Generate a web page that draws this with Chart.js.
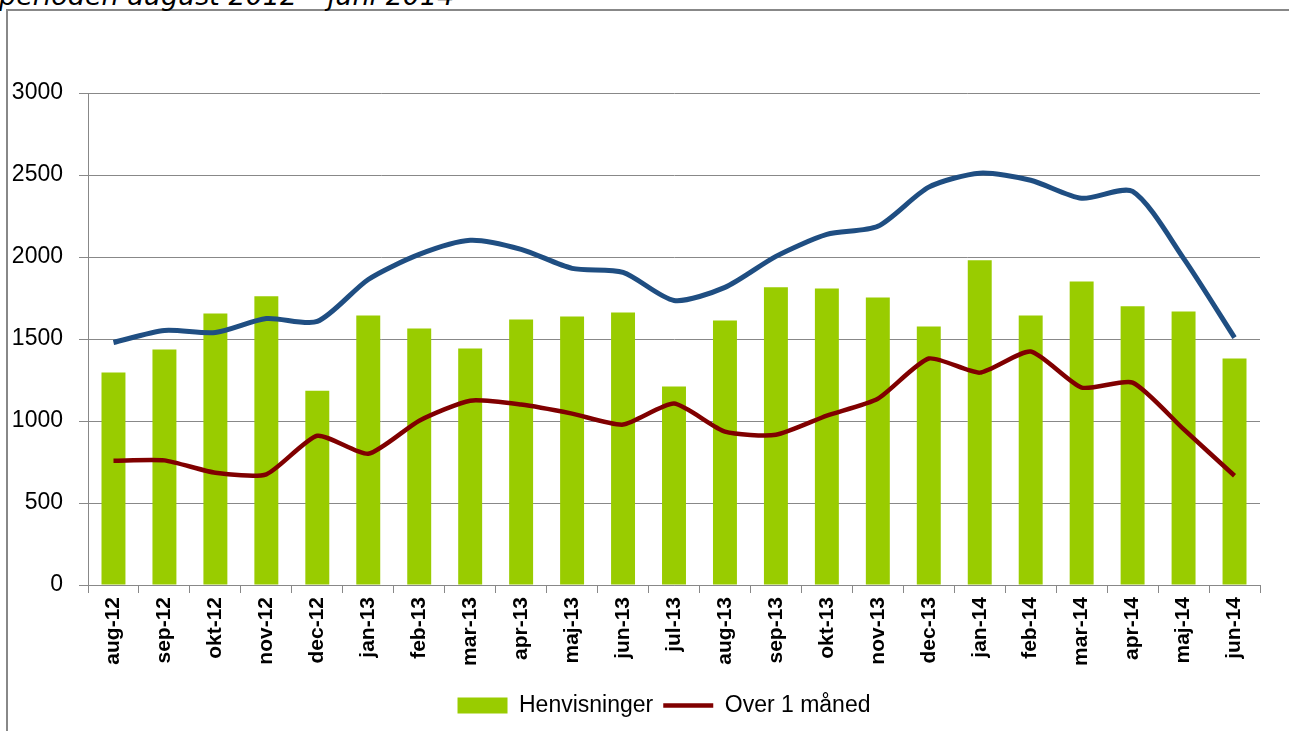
<!DOCTYPE html>
<html><head><meta charset="utf-8">
<script src="https://cdn.jsdelivr.net/npm/chart.js@4.4.0/dist/chart.umd.min.js"></script>
<style>
html,body{margin:0;padding:0;background:#fff;overflow:hidden;width:1289px;height:731px;}
#frame{position:absolute;left:6px;top:9px;width:1400px;height:800px;border-left:2px solid #888;border-top:2px solid #888;}
#title{position:absolute;left:-1px;top:-18px;font-family:"DejaVu Sans";font-style:italic;font-size:27px;line-height:27px;white-space:nowrap;color:#000;}
#wrap{position:absolute;left:0;top:0;width:1289px;height:731px;}
</style></head><body>
<div id="frame"></div>
<div id="title">perioden august 2012 – juni 2014</div>
<div id="wrap"><canvas id="c"></canvas></div>
<script>
const categories = ['aug-12','sep-12','okt-12','nov-12','dec-12','jan-13','feb-13','mar-13','apr-13','maj-13','jun-13','jul-13','aug-13','sep-13','okt-13','nov-13','dec-13','jan-14','feb-14','mar-14','apr-14','maj-14','jun-14'];
const henvisninger = [1295,1436,1656,1760,1185,1643,1564,1442,1619,1637,1662,1210,1613,1815,1808,1753,1576,1980,1643,1851,1699,1668,1381];
const over1Maaned = [758,760,684,675,910,800,1002,1124,1100,1045,978,1106,935,916,1033,1136,1381,1295,1424,1204,1234,950,666];
const blaaSerie = [1479,1552,1540,1625,1607,1863,2016,2102,2047,1931,1906,1735,1815,2004,2138,2187,2426,2511,2468,2358,2400,1992,1509];
const yMin = 0, yMax = 3000, yStep = 500;

const GRID = '#888888';
const legendShift = {
  id:'legendShift',
  afterLayout(chart){ if (chart.legend){ chart.legend.left += 31; chart.legend.right += 31; } }
};
new Chart(document.getElementById('c'), {
  data: {
    labels: categories,
    datasets: [
      {type:'bar', label:'Henvisninger', data:henvisninger, backgroundColor:'#99CC00', borderWidth:0, barPercentage:0.47, categoryPercentage:1, order:3},
      {type:'line', label:'Over 1 måned', data:over1Maaned, borderColor:'#800000', backgroundColor:'#800000', borderWidth:4.5, pointRadius:0, tension:0.2, order:1},
      {type:'line', label:'', data:blaaSerie, borderColor:'#1F4E82', backgroundColor:'#1F4E82', borderWidth:5, pointRadius:0, tension:0.25, order:2}
    ]
  },
  plugins:[legendShift],
  options: {
    responsive:true, maintainAspectRatio:false, animation:false, devicePixelRatio:1,
    layout:{padding:{left:6, right:29, top:93, bottom:4}},
    plugins:{
      tooltip:{enabled:false},
      legend:{
        position:'bottom',
        labels:{
          usePointStyle:true, pointStyleWidth:50, boxHeight:16, padding:10, color:'#000',
          font:{family:'Liberation Sans', size:23},
          generateLabels(chart){
            return chart.data.datasets.map((d,i)=>({
              text:d.label, datasetIndex:i, hidden:false,
              fillStyle:d.backgroundColor, strokeStyle:d.borderColor || d.backgroundColor,
              lineWidth: d.type==='line' ? 4.5 : 0,
              pointStyle: d.type==='line' ? 'line' : 'rect'
            })).filter(it=>it.text);
          }
        }
      }
    },
    scales:{
      x:{
        grid:{offset:true, drawOnChartArea:false, drawTicks:true, tickLength:8, color:GRID, lineWidth:1},
        border:{display:true, color:GRID, width:1},
        ticks:{autoSkip:false, maxRotation:90, minRotation:90, padding:4, color:'#000', font:{family:'Liberation Sans', size:21, weight:'bold'}},
        afterFit(s){ s.height = 99; }
      },
      y:{
        min:yMin, max:yMax,
        grid:{color:GRID, lineWidth:1, tickLength:9, drawTicks:true},
        border:{display:true, color:GRID, width:1},
        ticks:{stepSize:yStep, padding:16, color:'#000', font:{family:'Liberation Sans', size:23}, callback:(v)=>String(v)},
        afterFit(s){ s.width = 82; }
      }
    }
  }
});
</script>
</body></html>
